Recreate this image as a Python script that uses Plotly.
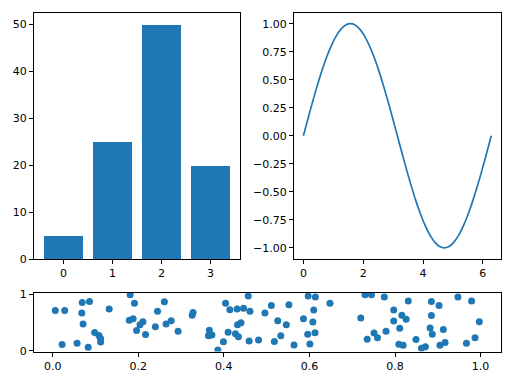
import plotly.graph_objects as go

# --- bar chart data ---
bar_categories = [0, 1, 2, 3]
bar_values = [5, 25, 50, 20]

# --- sine curve data ---
sine_x = [0.000, 0.157, 0.314, 0.471, 0.628, 0.785, 0.942, 1.100, 1.257, 1.414,
          1.571, 1.728, 1.885, 2.042, 2.199, 2.356, 2.513, 2.670, 2.827, 2.985,
          3.142, 3.299, 3.456, 3.613, 3.770, 3.927, 4.084, 4.241, 4.398, 4.555,
          4.712, 4.869, 5.027, 5.184, 5.341, 5.498, 5.655, 5.812, 5.969, 6.126,
          6.283]
sine_y = [0.000, 0.156, 0.309, 0.454, 0.588, 0.707, 0.809, 0.891, 0.951, 0.988,
          1.000, 0.988, 0.951, 0.891, 0.809, 0.707, 0.588, 0.454, 0.309, 0.156,
          0.000, -0.156, -0.309, -0.454, -0.588, -0.707, -0.809, -0.891, -0.951, -0.988,
          -1.000, -0.988, -0.951, -0.891, -0.809, -0.707, -0.588, -0.454, -0.309, -0.156,
          0.000]

# --- scatter data (read point by point) ---
scatter_x = [0.006, 0.028, 0.069, 0.086, 0.068, 0.132, 0.071, 0.098, 0.108, 0.112,
             0.112, 0.022, 0.057, 0.083, 0.181, 0.191, 0.179, 0.188, 0.211, 0.204,
             0.196, 0.217, 0.245, 0.261, 0.240, 0.265, 0.277, 0.293, 0.326, 0.328,
             0.457, 0.404, 0.414, 0.431, 0.446, 0.461, 0.496, 0.432, 0.440, 0.366,
             0.364, 0.372, 0.410, 0.427, 0.434, 0.399, 0.386, 0.459, 0.481, 0.511,
             0.552, 0.597, 0.614, 0.648, 0.610, 0.586, 0.608, 0.526, 0.546, 0.533,
             0.518, 0.596, 0.613, 0.564, 0.601, 0.730, 0.745, 0.775, 0.831, 0.797,
             0.816, 0.826, 0.797, 0.720, 0.811, 0.779, 0.751, 0.759, 0.735, 0.809,
             0.819, 0.849, 0.862, 0.871, 0.885, 0.903, 0.947, 0.979, 0.885, 0.997,
             0.882, 0.887, 0.913, 0.905, 0.917, 0.967, 0.987]
scatter_y = [0.716, 0.716, 0.858, 0.876, 0.671, 0.742, 0.476, 0.325, 0.272, 0.218,
             0.156, 0.112, 0.135, 0.064, 0.995, 0.844, 0.544, 0.570, 0.517, 0.462,
             0.361, 0.290, 0.703, 0.870, 0.426, 0.476, 0.533, 0.346, 0.631, 0.680,
             0.973, 0.845, 0.728, 0.742, 0.757, 0.703, 0.671, 0.462, 0.497, 0.366,
             0.268, 0.281, 0.330, 0.302, 0.250, 0.162, 0.014, 0.174, 0.192, 0.805,
             0.819, 0.973, 0.956, 0.844, 0.725, 0.570, 0.512, 0.535, 0.464, 0.268,
             0.165, 0.293, 0.321, 0.103, 0.121, 0.998, 0.996, 0.956, 0.885, 0.725,
             0.632, 0.561, 0.529, 0.583, 0.400, 0.348, 0.316, 0.233, 0.206, 0.117,
             0.098, 0.201, 0.046, 0.071, 0.876, 0.805, 0.956, 0.885, 0.627, 0.517,
             0.405, 0.295, 0.378, 0.099, 0.147, 0.133, 0.233]

BLUE = "#1f77b4"

# The page body has an 8px margin; the figure fills the rest of the window.
W, H, OFF = 504, 376, 8


def xdom(a, b):
    return [(a - OFF) / W, (b - OFF) / W]


def ydom(top, bottom):
    return [1 - (bottom - OFF) / H, 1 - (top - OFF) / H]


fig = go.Figure()
fig.add_trace(go.Bar(x=bar_categories, y=bar_values, width=0.8,
                     marker=dict(color=BLUE, line=dict(width=0)),
                     xaxis="x", yaxis="y"))
fig.add_trace(go.Scatter(x=sine_x, y=sine_y, mode="lines",
                         line=dict(color=BLUE, width=1.7, shape="spline"),
                         xaxis="x2", yaxis="y2"))
fig.add_trace(go.Scatter(x=scatter_x, y=scatter_y, mode="markers",
                         marker=dict(color=BLUE, size=7, line=dict(width=0)),
                         cliponaxis=True,
                         xaxis="x3", yaxis="y3"))

common = dict(showline=True, linecolor="black", linewidth=1, mirror=True,
              ticks="outside", ticklen=4, tickwidth=1, tickcolor="black",
              showgrid=False, zeroline=False, automargin=False,
              tickfont=dict(family="DejaVu Sans", size=11, color="black"))

top_y = ydom(12.5, 259)
fig.update_layout(
    width=W, height=H,
    margin=dict(l=0, r=0, t=0, b=0),
    paper_bgcolor="white", plot_bgcolor="white",
    showlegend=False, bargap=0,
    xaxis=dict(domain=xdom(34, 240), range=[-0.6, 3.6],
               tickvals=[0, 1, 2, 3], anchor="y", **common),
    yaxis=dict(domain=top_y, range=[0, 52.5],
               tickvals=[0, 10, 20, 30, 40, 50], anchor="x", **common),
    xaxis2=dict(domain=xdom(294, 500.7), range=[-0.314, 6.597],
                tickvals=[0, 2, 4, 6], anchor="y2", **common),
    yaxis2=dict(domain=top_y, range=[-1.1, 1.1],
                tickvals=[-1, -0.75, -0.5, -0.25, 0, 0.25, 0.5, 0.75, 1],
                tickformat=".2f", anchor="x2", **common),
    xaxis3=dict(domain=xdom(34, 500.7), range=[-0.0437, 1.047],
                tickvals=[0, 0.2, 0.4, 0.6, 0.8, 1.0], tickformat=".1f",
                anchor="y3", **common),
    yaxis3=dict(domain=ydom(292.5, 351.5), range=[-0.012, 1.036],
                tickvals=[0, 1], anchor="x3", **common),
)

fig.write_html("out.html")
